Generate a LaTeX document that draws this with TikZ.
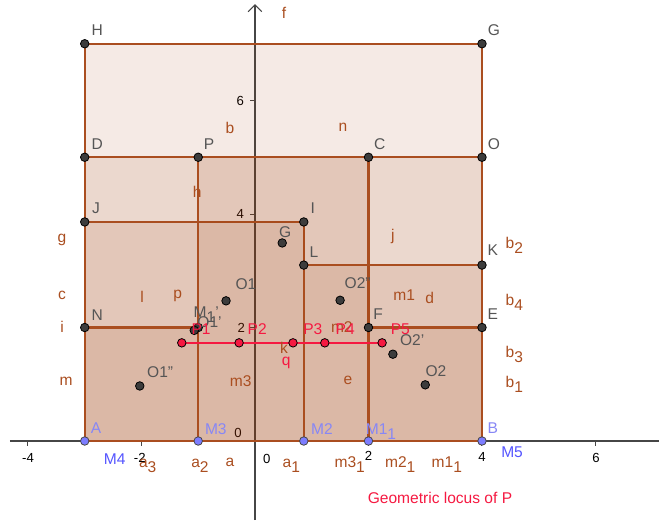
\documentclass[tikz,border=0pt]{standalone}
\usepackage{fontspec}
\setmainfont{Liberation Sans}
\usetikzlibrary{arrows.meta}
\definecolor{geobrown}{RGB}{153,51,0}
\definecolor{segbrown}{RGB}{170,78,32}
\definecolor{ptgray}{RGB}{60,60,60}
\definecolor{lblgray}{RGB}{85,85,85}
\definecolor{geoblue}{RGB}{125,125,255}
\definecolor{lblblue}{RGB}{135,135,245}
\definecolor{mblue}{RGB}{85,85,255}
\definecolor{geored}{RGB}{245,25,65}
\definecolor{axisgray}{RGB}{70,70,70}
\newcommand{\dn}[1]{\raisebox{-0.6ex}{#1}}
\tikzset{
  every node/.style={font=\fontsize{7.8}{9}\selectfont, inner sep=0pt},
  rect/.style={draw=segbrown, line width=1.05pt, fill=geobrown, fill opacity=0.1},
  ptlbl/.style={text=lblgray},
  seglbl/.style={text=segbrown},
  bluelbl/.style={text=lblblue},
  redlbl/.style={text=geored},
  numlbl/.style={text=black, font=\fontsize{6.6}{8}\selectfont},
}
\begin{document}
\begin{tikzpicture}
  \useasboundingbox (-4.493,-1.392) rectangle (7.119,7.771);
  % 各点
  \coordinate (A) at (-3,0);     \coordinate (B) at (4,0);
  \coordinate (G) at (4,7);      \coordinate (H) at (-3,7);
  \coordinate (D) at (-3,5);     \coordinate (O) at (4,5);
  \coordinate (P) at (-1,5);     \coordinate (C) at (2,5);
  \coordinate (J) at (-3,3.86);  \coordinate (I) at (0.86,3.86);
  \coordinate (L) at (0.86,3.1); \coordinate (K) at (4,3.1);
  \coordinate (N) at (-3,2);     \coordinate (F) at (2,2);
  \coordinate (E) at (4,2);      \coordinate (M1p) at (-1,2);
  \coordinate (M3) at (-1,0);    \coordinate (M2) at (0.86,0);
  \coordinate (M1) at (2,0);
  \coordinate (O1) at (-0.51,2.47);   \coordinate (O1p) at (-1.07,1.95);
  \coordinate (O1pp) at (-2.03,0.97); \coordinate (Gq) at (0.48,3.49);
  \coordinate (O2pp) at (1.5,2.48);   \coordinate (O2p) at (2.43,1.53);
  \coordinate (O2) at (3,0.99);
  \coordinate (P1) at (-1.29,1.73); \coordinate (P2) at (-0.28,1.73);
  \coordinate (P3) at (0.67,1.73);  \coordinate (P4) at (1.23,1.73);
  \coordinate (P5) at (2.24,1.73);
  % 坐标轴
  \draw[axisgray, line width=0.6pt] (-4.32,0) -- (7.119,0);
  \draw[axisgray, line width=0.6pt, -{Straight Barb[length=1.2mm]}] (0,-1.392) -- (0,7.70);
  \foreach \x in {-4,-2,2,4,6}
    \draw[axisgray, line width=0.5pt] (\x,0) -- (\x,-0.08);
  \foreach \y in {2,4,6}
    \draw[axisgray, line width=0.5pt] (0,\y) -- (-0.08,\y);
  \node[numlbl] at (-4,-0.30) {-4};
  \node[numlbl] at (-2.03,-0.30) {-2};
  \node[numlbl] at (0.21,-0.32) {0};
  \node[numlbl] at (2,-0.27) {2};
  \node[numlbl] at (4,-0.28) {4};
  \node[numlbl] at (6.01,-0.30) {6};
  \node[numlbl] at (-0.26,6.0) {6};
  \node[numlbl] at (-0.26,4.0) {4};
  \node[numlbl] at (-0.24,2.0) {2};
  \node[numlbl] at (-0.30,0.14) {0};
  % 矩形
  \filldraw[rect] (A) rectangle (G);
  \filldraw[rect] (A) rectangle (O);
  \filldraw[rect] (A) rectangle (I);
  \filldraw[rect] (M3) rectangle (C);
  \filldraw[rect] (M2) rectangle (K);
  \filldraw[rect] (A) rectangle (M1p);
  \filldraw[rect] (M1) rectangle (E);
  % 轨迹
  \draw[geored, line width=1pt] (P1) -- (P5);
  % 线段标签
  \node[seglbl] at (0.51,7.54) {f};
  \node[seglbl] at (-0.44,5.52) {b};
  \node[seglbl] at (1.55,5.52) {n};
  \node[seglbl] at (-1.02,4.39) {h};
  \node[seglbl] at (-3.40,3.54) {g};
  \node[seglbl] at (2.43,3.61) {j};
  \node[seglbl] at (4.57,3.45) {b\dn{2}};
  \node[seglbl] at (-3.40,2.56) {c};
  \node[seglbl] at (-1.99,2.54) {l};
  \node[seglbl] at (-1.36,2.56) {p};
  \node[seglbl] at (2.63,2.57) {m1};
  \node[seglbl] at (3.08,2.52) {d};
  \node[seglbl] at (4.57,2.45) {b\dn{4}};
  \node[seglbl] at (-3.40,2.01) {i};
  \node[seglbl] at (1.53,2.01) {m2};
  \node[seglbl] at (0.51,1.64) {k};
  \node[seglbl] at (4.57,1.53) {b\dn{3}};
  \node[seglbl] at (-3.33,1.06) {m};
  \node[seglbl] at (-0.25,1.06) {m3};
  \node[seglbl] at (1.64,1.07) {e};
  \node[seglbl] at (4.57,1.00) {b\dn{1}};
  \node[seglbl] at (-1.89,-0.44) {a\dn{3}};
  \node[seglbl] at (-0.97,-0.43) {a\dn{2}};
  \node[seglbl] at (-0.44,-0.37) {a};
  \node[seglbl] at (0.64,-0.43) {a\dn{1}};
  \node[seglbl] at (1.67,-0.41) {m3\dn{1}};
  \node[seglbl] at (2.56,-0.41) {m2\dn{1}};
  \node[seglbl] at (3.38,-0.41) {m1\dn{1}};
  % 黑点
  \foreach \p in {H,G,D,P,C,O,J,I,L,K,N,F,E,M1p,O1p,O1,O1pp,Gq,O2pp,O2p,O2}
    \filldraw[fill=ptgray, draw=black, line width=0.4pt] (\p) circle (0.075);
  % 蓝点
  \foreach \p in {A,M3,M2,M1,B}
    \filldraw[fill=geoblue, draw=axisgray, line width=0.4pt] (\p) circle (0.075);
  % 红点
  \foreach \p in {P1,P2,P3,P4,P5}
    \filldraw[fill=geored, draw=black, line width=0.4pt] (\p) circle (0.075);
  % 点标签
  \node[ptlbl] at (-2.78,7.24) {H};
  \node[ptlbl] at (4.21,7.24) {G};
  \node[ptlbl] at (-2.78,5.23) {D};
  \node[ptlbl] at (-0.81,5.23) {P};
  \node[ptlbl] at (2.20,5.23) {C};
  \node[ptlbl] at (4.21,5.23) {O};
  \node[ptlbl] at (-2.80,4.11) {J};
  \node[ptlbl] at (1.02,4.11) {I};
  \node[ptlbl] at (4.19,3.37) {K};
  \node[ptlbl] at (1.04,3.33) {L};
  \node[ptlbl] at (-2.78,2.22) {N};
  \node[ptlbl] at (2.17,2.24) {F};
  \node[ptlbl] at (4.19,2.24) {E};
  \node[ptlbl] at (0.53,3.68) {G};
  \node[ptlbl] at (-0.16,2.77) {O1};
  \node[ptlbl] at (-0.86,2.22) {M\dn{1}'};
  \node[ptlbl] at (-0.80,2.10) {O1'};
  \node[ptlbl] at (1.81,2.78) {O2''};
  \node[ptlbl] at (2.77,1.78) {O2'};
  \node[ptlbl] at (3.19,1.23) {O2};
  \node[ptlbl] at (-1.67,1.22) {O1''};
  \node[bluelbl] at (-2.80,0.23) {A};
  \node[bluelbl] at (-0.69,0.21) {M3};
  \node[bluelbl] at (1.18,0.21) {M2};
  \node[bluelbl] at (2.22,0.17) {M1\dn{1}};
  \node[bluelbl] at (4.19,0.23) {B};
  \node[text=mblue] at (-2.47,-0.32) {M4};
  \node[text=mblue] at (4.53,-0.19) {M5};
  \node[redlbl] at (-0.95,1.97) {P1};
  \node[redlbl] at (0.04,1.97) {P2};
  \node[redlbl] at (1.02,1.97) {P3};
  \node[redlbl] at (1.59,1.97) {P4};
  \node[redlbl] at (2.56,1.97) {P5};
  \node[redlbl] at (0.55,1.37) {q};
  \node[redlbl] at (3.26,-1.0) {Geometric locus of P};
\end{tikzpicture}
\end{document}
